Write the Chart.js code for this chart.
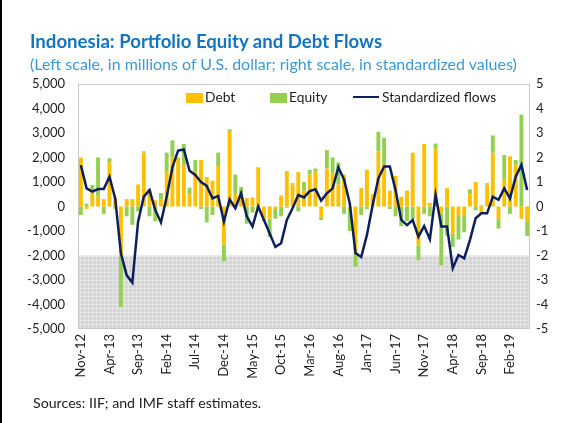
<!DOCTYPE html>
<html>
<head>
<meta charset="utf-8">
<script src="https://cdn.jsdelivr.net/npm/chart.js@4"></script>
<style>
  body { margin: 0; background: #fff; font-family: Lato, "Open Sans", sans-serif; }
  #wrap { position: relative; width: 571px; height: 423px; overflow: hidden; }
  #frame { position: absolute; left: 0; top: 0; width: 2px; height: 423px; background: #000; }
  #title { position: absolute; left: 30px; top: 30px; font-size: 18.6px; font-weight: bold; color: #1474bf; white-space: nowrap; }
  #subtitle { position: absolute; left: 30px; top: 54px; font-size: 16px; color: #3b9ad6; white-space: nowrap; }
  #source { position: absolute; left: 33px; top: 394px; font-size: 14.2px; color: #222; white-space: nowrap; }
  .lg { position: absolute; top: 88px; font-size: 13.8px; color: #222; white-space: nowrap; }
  .sw { display: inline-block; width: 17px; height: 10px; vertical-align: -1px; margin-right: 2px; }
  .ln { display: inline-block; width: 26px; height: 2.5px; background: #0d1f5c; vertical-align: 4px; margin-right: 3px; }
  canvas { position: absolute; left: 0; top: 0; }
</style>
</head>
<body>
<div id="wrap">
  <canvas id="flowChart" width="571" height="423"></canvas>
  <div id="frame"></div>
  <div id="title">Indonesia: Portfolio Equity and Debt Flows</div>
  <div id="subtitle">(Left scale, in millions of U.S. dollar; right scale, in standardized values)</div>
  <div class="lg" style="left:186px"><span class="sw" style="background:#ffc000"></span>Debt</div>
  <div class="lg" style="left:270px"><span class="sw" style="background:#92d050"></span>Equity</div>
  <div class="lg" style="left:353px"><span class="ln"></span>Standardized flows</div>
  <div id="source">Sources: IIF; and IMF staff estimates.</div>
</div>
<script>
// ── Indonesia portfolio flows ──

const months = [
  'Nov-12','Dec-12','Jan-13','Feb-13','Mar-13','Apr-13','May-13','Jun-13','Jul-13','Aug-13',
  'Sep-13','Oct-13','Nov-13','Dec-13','Jan-14','Feb-14','Mar-14','Apr-14','May-14','Jun-14',
  'Jul-14','Aug-14','Sep-14','Oct-14','Nov-14','Dec-14','Jan-15','Feb-15','Mar-15','Apr-15',
  'May-15','Jun-15','Jul-15','Aug-15','Sep-15','Oct-15','Nov-15','Dec-15','Jan-16','Feb-16',
  'Mar-16','Apr-16','May-16','Jun-16','Jul-16','Aug-16','Sep-16','Oct-16','Nov-16','Dec-16',
  'Jan-17','Feb-17','Mar-17','Apr-17','May-17','Jun-17','Jul-17','Aug-17','Sep-17','Oct-17',
  'Nov-17','Dec-17','Jan-18','Feb-18','Mar-18','Apr-18','May-18','Jun-18','Jul-18','Aug-18',
  'Sep-18','Oct-18','Nov-18','Dec-18','Jan-19','Feb-19','Mar-19','Apr-19','May-19'
];

// millions of US$
const debt = [
  2000, -100, 600, 400, 300, 1800, 350, -2050, 300, 300,
  900, 2200, 700, 250, 300, 1450, 2000, 2000, 1700, 500,
  1450, 1900, 1200, 1050, 1650, -1550, 3050, 550, 350, 350,
  370, 1600, -500, -500, -100, 450, 1450, 900, 1400, 650,
  1300, 1450, -450, 1550, 1350, 900, 1300, -100, -1900, 750,
  1500, 450, 2250, 1700, 650, 1250, 400, 650, 2200, -1600,
  2550, 150, 2370, -300, 750, -1100, -350, -350, 550, 1000,
  -300, 900, 2200, -550, 1100, 2050, 1700, -500, -600
];
const equity = [
  -350, 120, 280, 1600, -300, 170, -100, -2050, -400, -750,
  -200, 50, -400, -600, 250, 750, 700, 0, 850, 270,
  450, -100, -650, -350, 550, -680, 100, 750, 450, -700,
  -250, -150, -100, -750, -400, -400, -50, 50, -200, 350,
  200, 100, -100, 750, 650, 900, -300, -900, -550, -350,
  -100, 50, 800, 1100, -100, -400, -800, -600, -500, -600,
  -300, -400, 200, -2100, -1200, -550, -1000, -700, 150, -150,
  50, 50, 700, -350, 1000, -300, 200, 3750, -600
];
// standardized values (right scale)
const standardized = [
  1.69, 0.74, 0.61, 0.71, 0.71, 1.22, 0.33, -1.91, -2.8, -3.11,
  -0.62, 0.4, 0.67, -0.14, -0.65, 0.4, 1.6, 2.28, 2.33, 1.46,
  1.29, 1.0, 0.84, 0.33, 0.43, -0.62, 0.29, -0.07, 0.54, -0.4,
  -0.82, 0.0, -0.55, -1.1, -1.65, -1.5, -0.55, -0.07, 0.47, 0.37,
  0.63, 0.7, 0.24, 0.54, 0.74, 1.6, 1.1, 0.13, -1.9, -2.06,
  -1.16, 0.06, 1.15, 1.63, 1.63, 0.67, -0.55, -0.76, -0.55, -1.23,
  -0.8, -1.34, 0.47, -0.82, -0.82, -2.52, -1.98, -2.12, -1.37, -0.48,
  -0.28, -0.28, 0.4, 0.27, 0.74, 0.33, 1.22, 1.7, 0.67
];
const shadeFrom = -2000, shadeTo = -5000;

// dotted gray pattern for the shaded band
function makePattern(ctx) {
  const c = document.createElement('canvas');
  c.width = 4; c.height = 4;
  const p = c.getContext('2d');
  p.fillStyle = '#d6d6d6'; p.fillRect(0, 0, 4, 4);
  p.fillStyle = '#e4e4e4'; p.fillRect(0, 0, 1, 4); p.fillRect(0, 0, 4, 1);
  p.fillStyle = '#c9c9c9'; p.fillRect(2, 2, 1, 1);
  return ctx.createPattern(c, 'repeat');
}

const shadePlugin = {
  id: 'shade',
  beforeDatasetsDraw(chart) {
    const { ctx, chartArea: a, scales } = chart;
    const y1 = scales.y.getPixelForValue(shadeFrom), y2 = scales.y.getPixelForValue(shadeTo);
    ctx.save();
    ctx.fillStyle = makePattern(ctx);
    ctx.fillRect(a.left, y1, a.right - a.left, y2 - y1);
    ctx.strokeStyle = '#c8c8c8'; ctx.lineWidth = 1;
    ctx.strokeRect(a.left + 0.5, a.top + 0.5, a.right - a.left - 1, a.bottom - a.top - 1);
    ctx.restore();
  }
};

const tickFont = { family: 'Lato', size: 13 };

new Chart(document.getElementById('flowChart').getContext('2d'), {
  type: 'bar',
  data: {
    labels: months,
    datasets: [
      { label: 'Debt', data: debt, backgroundColor: '#ffc000', yAxisID: 'y', order: 1,
        barPercentage: 1, categoryPercentage: 0.68 },
      { label: 'Equity', data: equity, backgroundColor: '#92d050', yAxisID: 'y', order: 1,
        barPercentage: 1, categoryPercentage: 0.68 },
      { type: 'line', label: 'Standardized flows', data: standardized, yAxisID: 'y1', order: 0,
        borderColor: '#0d1f5c', borderWidth: 2.5, pointRadius: 0, tension: 0, fill: false }
    ]
  },
  options: {
    responsive: false,
    animation: false,
    devicePixelRatio: 1,
    layout: { padding: { top: 84, left: 0, right: 0, bottom: 0 } },
    plugins: { legend: { display: false }, tooltip: { enabled: false } },
    scales: {
      x: {
        stacked: true,
        grid: { display: false, drawTicks: false },
        border: { display: false },
        afterFit: s => { s.height = 94; },
        ticks: {
          autoSkip: false, minRotation: 90, maxRotation: 90, padding: 5,
          font: tickFont, color: '#222',
          callback: (v, i) => (i % 5 === 0 ? months[i] : '')
        }
      },
      y: {
        stacked: true, position: 'left', min: -5000, max: 5000,
        grid: { display: false, drawTicks: false },
        border: { display: false },
        afterFit: s => { s.width = 78; },
        ticks: {
          stepSize: 1000, padding: 13, font: tickFont, color: '#222',
          callback: v => v.toLocaleString('en-US')
        }
      },
      y1: {
        position: 'right', min: -5, max: 5,
        grid: { display: false, drawTicks: false },
        border: { display: false },
        afterFit: s => { s.width = 41; },
        ticks: { stepSize: 1, padding: 6, font: tickFont, color: '#222' }
      }
    }
  },
  plugins: [shadePlugin]
});
</script>
</body>
</html>
